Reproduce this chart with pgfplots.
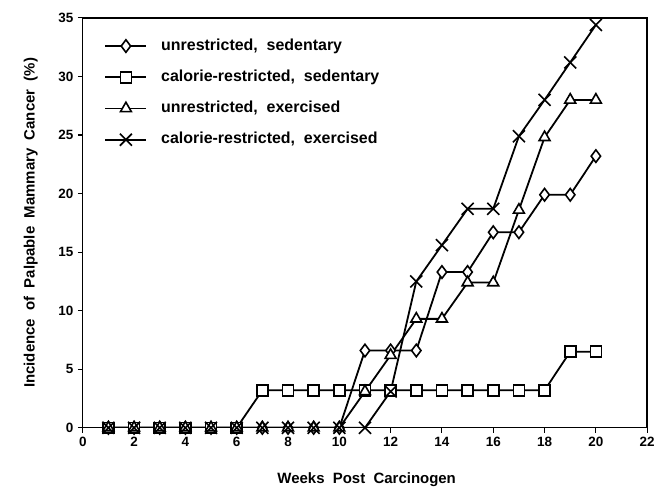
\documentclass[border=0pt]{standalone}
\usepackage{pgfplots}
\pgfplotsset{compat=1.18}
\usepackage{fontspec}
\setmainfont{Liberation Sans}
\begin{document}
\begin{tikzpicture}
\path (-83pt,-62pt) rectangle (575pt,429pt);
\begin{axis}[
  at={(0pt,0pt)}, anchor=south west,
  scale only axis, width=566pt, height=411pt,
  xmin=0, xmax=22, ymin=0, ymax=35,
  xtick={0,2,...,22}, ytick={0,5,...,35},
  tick pos=left, tick align=outside,
  major tick length=5pt,
  axis line style={line width=1.4pt},
  every tick/.style={line width=1.1pt, black},
  /pgf/number format/assume math mode=true,
  ticklabel style={font=\bfseries\fontsize{13.5}{15}\selectfont},
  xticklabel style={yshift=-1pt},
  yticklabel style={xshift=-1pt},
  xlabel={Weeks~ Post~ Carcinogen},
  ylabel={Incidence~ of~ Palpable~ Mammary~ Cancer~ (\%)},
  label style={font=\bfseries\fontsize{15}{17}\selectfont},
  xlabel style={at={(axis description cs:0.503,-0.136)}, anchor=base},
  ylabel style={at={(axis description cs:-0.092,0.5)}, anchor=center},
  legend image code/.code={
    \draw[mark repeat=2, mark phase=2, #1] plot coordinates {(0pt,0pt) (20.5pt,0pt) (41pt,0pt)};},
  legend cell align=left,
  legend style={draw=none, fill=none, at={(axis description cs:0.033,0.955)}, anchor=north west,
    font=\bfseries\fontsize{16}{18}\selectfont, row sep=16.3pt, column sep=7pt,
    nodes={inner ysep=0pt, inner xsep=7pt, text height=11.5pt, text depth=3.5pt}},
  ser/.style={black, line width=1.8pt, mark options={fill=white, draw=black, solid, line width=1.6pt}},
]
\addplot[ser, mark=diamond*, mark size=6.3pt] coordinates {
(1,0) (2,0) (3,0) (4,0) (5,0) (6,0) (7,0) (8,0) (9,0) (10,0)
(11,6.6) (12,6.6) (13,6.6) (14,13.3) (15,13.3) (16,16.7) (17,16.7) (18,19.9) (19,19.9) (20,23.2)};
\addlegendentry{unrestricted,~ sedentary}
\addplot[ser, mark=square*, mark size=5.5pt] coordinates {
(1,0) (2,0) (3,0) (4,0) (5,0) (6,0) (7,3.2) (8,3.2) (9,3.2) (10,3.2)
(11,3.2) (12,3.2) (13,3.2) (14,3.2) (15,3.2) (16,3.2) (17,3.2) (18,3.2) (19,6.5) (20,6.5)};
\addlegendentry{calorie-restricted,~ sedentary}
\addplot[ser, mark=triangle*, mark size=6.3pt] coordinates {
(1,0) (2,0) (3,0) (4,0) (5,0) (6,0) (7,0) (8,0) (9,0) (10,0)
(11,3.1) (12,6.2) (13,9.3) (14,9.3) (15,12.4) (16,12.4) (17,18.6) (18,24.8) (19,28.0) (20,28.0)};
\addlegendentry{unrestricted,~ exercised}
\addplot[ser, mark=x, mark size=8.5pt] coordinates {
(1,0) (2,0) (3,0) (4,0) (5,0) (6,0) (7,0) (8,0) (9,0) (10,0)
(11,0) (12,3.1) (13,12.5) (14,15.6) (15,18.7) (16,18.7) (17,24.9) (18,28.0) (19,31.2) (20,34.4)};
\addlegendentry{calorie-restricted,~ exercised}
\end{axis}
\end{tikzpicture}
\end{document}
